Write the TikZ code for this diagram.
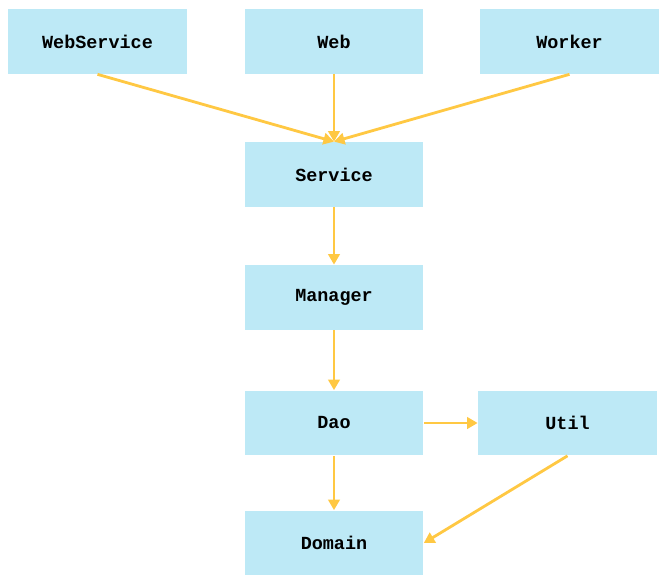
\documentclass[tikz,border=0pt]{standalone}
\usepackage{fontspec}
\setmonofont{Liberation Mono}
\usetikzlibrary{arrows.meta,positioning}
\definecolor{LayerBlue}{HTML}{BDE9F6}
\definecolor{LinkYellow}{HTML}{FFC843}

\begin{document}
\begin{tikzpicture}[x=0.02cm,y=-0.02cm,>={Triangle[length=6pt,width=6.5pt]},every node/.style={font=\ttfamily\bfseries\fontsize{10.5}{12}\selectfont, align=center}, layer/.style={fill=LayerBlue, minimum width=3.58cm, minimum height=1.3cm, inner sep=0pt}, link/.style={->, line width=1.6pt, LinkYellow}]
        \useasboundingbox (0,0) rectangle (666,584);
        \node[layer] (webservice) at (97.5,41.5) {WebService};
        \node[layer] (web) at (334,41.5) {Web};
        \node[layer] (worker) at (569.5,41.5) {Worker};
        \node[layer] (service) at (334,174.5) {Service};
        \node[layer] (manager) at (334,297.5) {Manager};
        \node[layer] (dao) at (334,423) {Dao};
        \node[layer] (util) at (567.5,423) {Util};
        \node[layer] (domain) at (334,543) {Domain};
        \draw[link] (webservice.south) -- (service.north);
        \draw[link] (web.south) -- (service.north);
        \draw[link] (worker.south) -- (service.north);
        \draw[link] (service) -- (manager);
        \draw[link] (manager) -- (dao);
        \draw[link] (dao) -- (util);
        \draw[link] (dao) -- (domain);
        \draw[link] (util.south) -- (domain.east);
    \end{tikzpicture}
\end{document}
